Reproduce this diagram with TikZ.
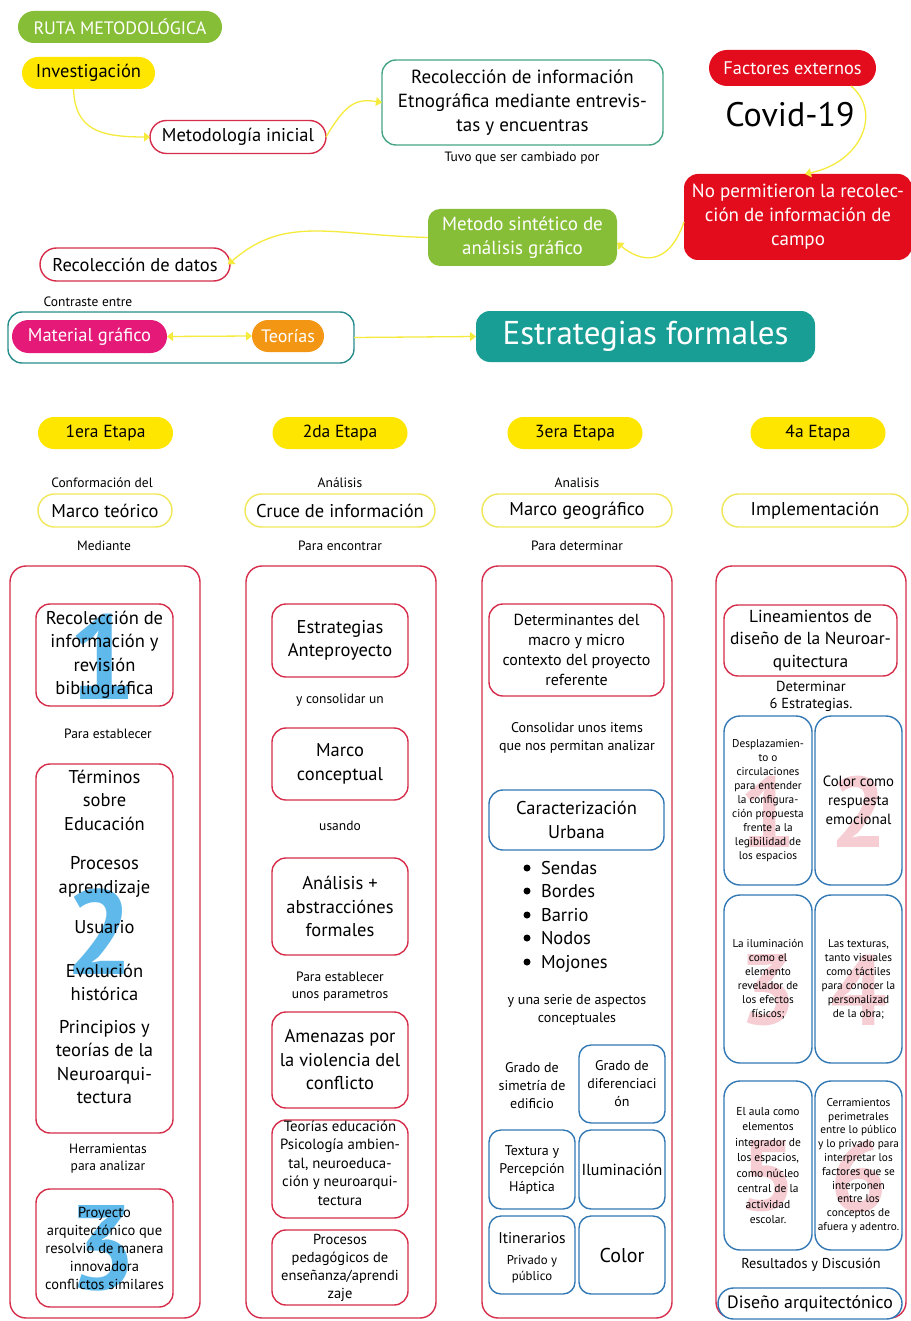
\documentclass[tikz,border=0pt]{standalone}
\usepackage{fontspec}
\setmainfont{PT Sans}
\usetikzlibrary{arrows.meta,calc}
\definecolor{crim}{RGB}{214,45,75}
\definecolor{blu}{RGB}{50,120,180}
\definecolor{yel}{RGB}{255,230,0}
\definecolor{ylight}{RGB}{240,232,90}
\definecolor{conn}{RGB}{245,235,60}
\definecolor{grn}{RGB}{135,190,55}
\definecolor{redf}{RGB}{226,12,28}
\definecolor{teal1}{RGB}{25,158,150}
\definecolor{tgreen}{RGB}{70,165,135}
\definecolor{tdark}{RGB}{40,140,140}
\definecolor{mag}{RGB}{228,25,120}
\definecolor{orn}{RGB}{243,150,20}
\definecolor{wblue}{RGB}{95,185,235}
\definecolor{wpink}{RGB}{246,205,210}
\newcommand\fs[2]{\fontsize{#1}{#2}\selectfont}
\begin{document}
\begin{tikzpicture}[x=1pt,y=-1pt,
  every node/.style={inner sep=0pt,outer sep=0pt,align=center},
  bx/.style 2 args={minimum width=#1,minimum height=#2},
  redb/.style={draw=crim,line width=1.4pt,rounded corners=14pt},
  blueb/.style={draw=blu,line width=1.4pt,rounded corners=14pt},
  yelb/.style={draw=ylight,line width=1.4pt},
  big/.style={font=\fs{18.5}{23.5}},
  sml/.style={font=\fs{13.5}{17}},
  tny/.style={font=\fs{11.3}{14}},
  tip/.style={-{Triangle[width=9pt,length=6pt]}},
  arr/.style={draw=conn,line width=1.3pt,tip},
  wmb/.style={text=wblue,font=\fs{120}{120}\bfseries},
  wmp/.style={text=wpink,font=\fs{100}{100}\bfseries},
]
\useasboundingbox (0,0) rectangle (910,1321);
\fill[white] (0,0) rectangle (910,1321);

% ---------- top part ----------
\node[fill=grn,bx={204pt}{32pt},rounded corners=16pt,font=\fs{18}{20},text=white] (ruta) at (120,27) {RUTA METODOLÓGICA};
\node[fill=yel,bx={133pt}{32pt},rounded corners=16pt,font=\fs{18.5}{20}] (inv) at (88.5,73) {Investigación};
\node[redb,rounded corners=16.5pt,bx={176pt}{33pt},big] (met) at (238,137) {Metodología inicial};
\node[draw=tgreen,line width=1.4pt,rounded corners=14pt,bx={281pt}{85pt},font=\fs{19}{24}] (rinf) at (522.5,102.5) {Recolección de información\\Etnográfica mediante entrevis-\\tas y encuentras};
\node[sml,anchor=base] (tuvo) at (522,162) {Tuvo que ser cambiado por};
\node[fill=redf,bx={167pt}{36pt},rounded corners=18pt,font=\fs{18.3}{20},text=white] (fac) at (792.5,68) {Factores externos};
\node[font=\fs{34}{36}] (cov) at (790,115) {Covid-19};
\node[fill=redf,bx={228pt}{86pt},rounded corners=14pt,font=\fs{19}{24},text=white] (nop) at (798,217) {No permitieron la recolec-\\ción de información de\\campo};
\node[fill=grn,bx={189pt}{57pt},rounded corners=12pt,font=\fs{19}{24},text=white] (sin) at (522.5,237.5) {Metodo sintético de\\análisis gráfico};
\node[redb,rounded corners=16.5pt,bx={190pt}{33pt},big] (rdat) at (135,264.5) {Recolección de datos};
\node[sml,anchor=base] (contr) at (88,306) {Contraste entre};
\node[draw=tdark,line width=1.4pt,rounded corners=14pt,bx={346pt}{51pt}] (cont) at (181,337.5) {};
\node[fill=mag,bx={155pt}{33pt},rounded corners=16.5pt,font=\fs{18.5}{20},text=white] (mat) at (89.5,336.5) {Material gráfico};
\node[fill=orn,bx={72pt}{32pt},rounded corners=16pt,font=\fs{18}{20},text=white] (teo) at (288,336) {Teorías};
\node[fill=teal1,bx={339pt}{51pt},rounded corners=14pt,font=\fs{33}{36},text=white] (est) at (645.5,336.5) {Estrategias formales};

% connectors
\draw[arr] ($(inv.south)+(-15,0)$) .. controls (75,130) and (100,137) .. (met.west);
\draw[arr] (met.east) .. controls (345,105) and (355,98) .. (rinf.west);
\draw[arr] ($(fac.south east)+(-25,0)$) .. controls (882,112) and (862,162) .. ($(nop.north)+(7,0)$);
\draw[arr] ($(nop.west)+(0,5)$) .. controls (668,268) and (640,262) .. ($(sin.east)+(0,5)$);
\draw[arr] (sin.west) .. controls (330,235) and (285,215) .. ($(rdat.east)+(-2,0)$);
\draw[draw=conn,line width=1.3pt,{Triangle[width=9pt,length=6pt]}-{Triangle[width=9pt,length=6pt]}] (teo.west) -- (mat.east);
\draw[arr] (cont.east) -- (est.west);

% ---------- stages ----------
\node[fill=yel,bx={135pt}{32pt},rounded corners=16pt,font=\fs{17.5}{20}] (e1) at (105.5,433) {1era Etapa};
\node[fill=yel,bx={135pt}{32pt},rounded corners=16pt,font=\fs{17.5}{20}] (e2) at (340,433) {2da Etapa};
\node[fill=yel,bx={135pt}{32pt},rounded corners=16pt,font=\fs{17.5}{20}] (e3) at (575,433) {3era Etapa};
\node[fill=yel,bx={135pt}{32pt},rounded corners=16pt,font=\fs{17.5}{20}] (e4) at (818,433) {4a Etapa};

\node[sml,anchor=base] (t1a) at (102,487) {Conformación del};
\node[sml,anchor=base] (t2a) at (340,487) {Análisis};
\node[sml,anchor=base] (t3a) at (577,487) {Analisis};

\node[yelb,rounded corners=16.5pt,bx={134pt}{33pt},big] (m1) at (105,510.5) {Marco teórico};
\node[yelb,rounded corners=16.5pt,bx={190pt}{33pt},big] (m2) at (340,510.5) {Cruce de información};
\node[yelb,rounded corners=16.5pt,bx={190pt}{33pt},big] (m3) at (577,510.5) {Marco geográfico};
\node[yelb,rounded corners=16.5pt,bx={186pt}{33pt},big] (m4) at (815,510.5) {Implementación};

\node[sml,anchor=base] (t1b) at (104,550) {Mediante};
\node[sml,anchor=base] (t2b) at (340,550) {Para encontrar};
\node[sml,anchor=base] (t3b) at (577,550) {Para determinar};

% columns
\node[redb,rounded corners=16pt,bx={190pt}{752pt}] (col1) at (105,942) {};
\node[redb,rounded corners=16pt,bx={190pt}{752pt}] (col2) at (341,942) {};
\node[redb,rounded corners=16pt,bx={190pt}{752pt}] (col3) at (577,942) {};
\node[redb,rounded corners=16pt,bx={190pt}{752pt}] (col4) at (811,942) {};

% ---------- column 1 ----------
\node[wmb] (w11) at (103,657) {1};
\node[redb,bx={137pt}{102pt},big] (c1a) at (104.5,655) {Recolección de\\información y\\revisión\\bibliográfica};
\node[sml] (c1t1) at (108,734) {Para establecer};
\node[wmb] (w12) at (100,932) {2};
\node[redb,bx={137pt}{369pt}] (c1b) at (104.5,948.5) {};
\node[big] (c1bt) at (104.5,937) {Términos\\sobre\\Educación\\[16pt]Procesos\\aprendizaje\\[17pt]Usuario\\[20pt]Evolución\\histórica\\[9pt]Principios y\\teorías de la\\Neuroarqui-\\tectura};
\node[sml] (c1t2) at (108,1159) {Herramientas\\para analizar};
\node[wmb] (w13) at (103,1248) {3};
\node[redb,bx={137pt}{118pt},font=\fs{14.5}{18}] (c1c) at (104.5,1248) {Proyecto\\arquitectónico que\\resolvió de manera\\innovadora\\conflictos similares};

% ---------- column 2 ----------
\node[redb,bx={136pt}{73pt},big] (c2a) at (340,640.5) {Estrategias\\Anteproyecto};
\node[sml] (c2t1) at (340,700) {y consolidar un};
\node[redb,bx={136pt}{72pt},big] (c2b) at (340,764) {Marco\\conceptual};
\node[sml] (c2t2) at (340,826) {usando};
\node[redb,bx={136pt}{97pt},big] (c2c) at (340,906.5) {Análisis +\\abstracciónes\\formales};
\node[sml] (c2t3) at (340,987) {Para establecer\\unos parametros};
\node[redb,bx={136pt}{96pt},big] (c2d) at (340,1060) {Amenazas por\\la violencia del\\conflicto};
\node[redb,bx={136pt}{98pt}] (c2e) at (340,1169) {};
\node[font=\fs{14.8}{18.5}] (c2et) at (340,1163) {Teorías educación\\Psicología ambien-\\tal, neuroeduca-\\ción y neuroarqui-\\tectura};
\node[redb,bx={136pt}{75pt},font=\fs{14.5}{18}] (c2f) at (340,1267.5) {Procesos\\pedagógicos de\\enseñanza/aprendi\\zaje};

% ---------- column 3 ----------
\node[redb,bx={175pt}{92pt},font=\fs{16}{20}] (c3a) at (576.5,650) {Determinantes del\\macro y micro\\contexto del proyecto\\referente};
\node[font=\fs{14}{18}] (c3t1) at (577,738) {Consolidar unos items\\que nos permitan analizar};
\node[blueb,bx={175pt}{60pt},big] (c3b) at (576.5,820) {Caracterización\\Urbana};
\fill (527,868) circle (3.5);
\fill (527,891) circle (3.5);
\fill (527,915) circle (3.5);
\fill (527,938) circle (3.5);
\fill (527,962) circle (3.5);
\node[big,anchor=base west] (b1) at (541,874) {Sendas};
\node[big,anchor=base west] (b2) at (541,897) {Bordes};
\node[big,anchor=base west] (b3) at (541,921) {Barrio};
\node[big,anchor=base west] (b4) at (541,944) {Nodos};
\node[big,anchor=base west] (b5) at (541,968) {Mojones};
\node[font=\fs{14}{18}] (c3t2) at (577,1010) {y una serie de aspectos\\conceptuales};
\node[font=\fs{14}{18}] (g1) at (532,1086) {Grado de\\simetría de\\edificio};
\node[blueb,rounded corners=12pt,bx={86pt}{78pt},font=\fs{14}{18}] (g2) at (622,1084) {Grado de\\diferenciaci\\ón};
\node[blueb,rounded corners=12pt,bx={86pt}{79pt},font=\fs{14}{18}] (g3) at (532,1169.5) {Textura y\\Percepción\\Háptica};
\node[blueb,rounded corners=12pt,bx={86pt}{79pt},font=\fs{16}{18}] (g4) at (622,1169.5) {Iluminación};
\node[blueb,rounded corners=12pt,bx={86pt}{78pt}] (g5) at (532,1255) {};
\node[font=\fs{15.5}{18},anchor=base] (g5a) at (532,1243) {Itinerarios};
\node[font=\fs{12.8}{16}] (g5b) at (532,1269) {Privado y\\público};
\node[blueb,rounded corners=12pt,bx={86pt}{78pt},font=\fs{20}{22}] (g6) at (622,1255) {Color};

% ---------- column 4 ----------
\node[redb,bx={173pt}{71pt},font=\fs{17.4}{22.5}] (c4a) at (810.5,640.5) {Lineamientos de\\diseño de la Neuroar-\\quitectura};
\node[font=\fs{14.5}{17}] (c4t1) at (811,696) {Determinar\\6 Estrategias.};
\node[wmp] (w41) at (768,812) {1};
\node[wmp] (w42) at (858.5,812) {2};
\node[wmp] (w43) at (768,990) {3};
\node[wmp] (w44) at (858.5,990) {4};
\node[wmp] (w45) at (768,1176) {5};
\node[wmp] (w46) at (858.5,1176) {6};
\node[blueb,rounded corners=16pt,bx={88pt}{169pt},tny] (s1) at (768,800.5) {Desplazamien-\\to o\\circulaciones\\para entender\\la configura-\\ción propuesta\\frente a la\\legibilidad de\\los espacios};
\node[blueb,rounded corners=16pt,bx={87pt}{169pt},font=\fs{14.8}{19}] (s2) at (858.5,800.5) {Color como\\respuesta\\emocional};
\node[blueb,rounded corners=16pt,bx={88pt}{168pt},tny] (s3) at (768,979) {La iluminación\\como el\\elemento\\revelador de\\los efectos\\físicos;};
\node[blueb,rounded corners=16pt,bx={87pt}{168pt},tny] (s4) at (858.5,979) {Las texturas,\\tanto visuales\\como táctiles\\para conocer la\\personalizad\\de la obra;};
\node[blueb,rounded corners=16pt,bx={88pt}{169pt},font=\fs{11.5}{15.5}] (s5) at (768,1165.5) {El aula como\\elementos\\integrador de\\los espacios,\\como núcleo\\central de la\\actividad\\escolar.};
\node[blueb,rounded corners=16pt,bx={87pt}{169pt},font=\fs{11.3}{13.8}] (s6) at (858.5,1165.5) {Cerramientos\\perimetrales\\entre lo público\\y lo privado para\\interpretar los\\factores que se\\interponen\\entre los\\conceptos de\\afuera y adentro.};
\node[font=\fs{14.3}{18}] (c4t2) at (811,1265) {Resultados y Discusión};
\node[blueb,rounded corners=15.5pt,bx={184pt}{31pt},font=\fs{17.8}{20},fill=white] (dis) at (810,1303.5) {Diseño arquitectónico};
\end{tikzpicture}
\end{document}
